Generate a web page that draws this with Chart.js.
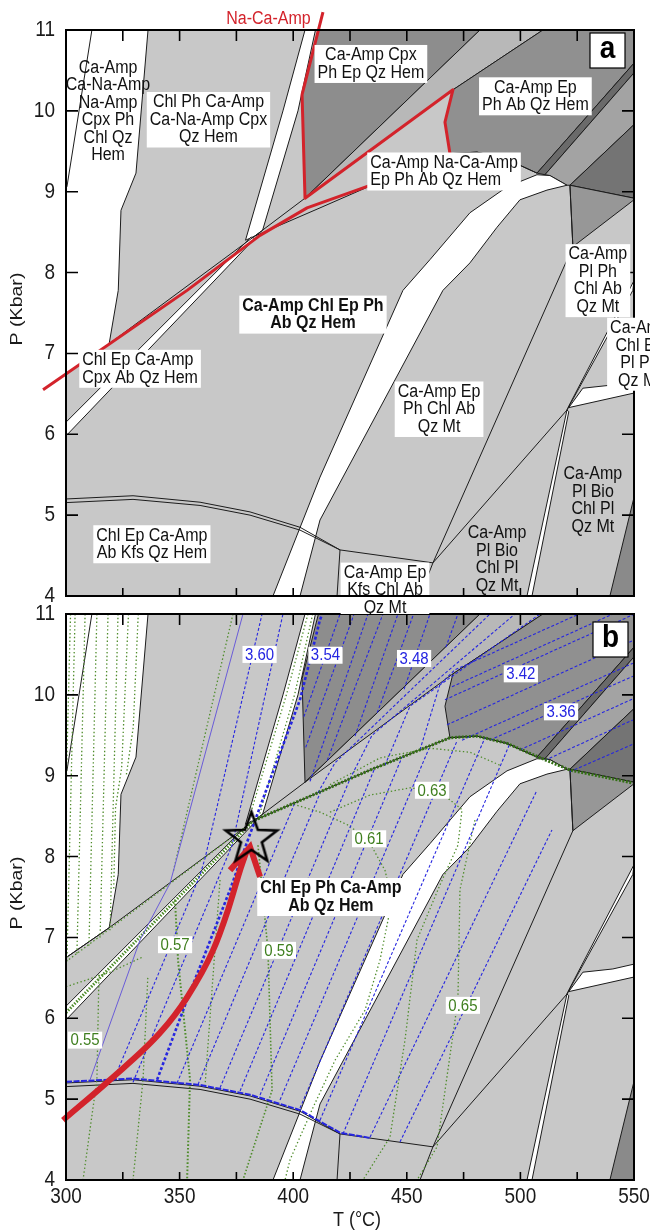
<!DOCTYPE html>
<html>
<head>
<meta charset="utf-8">
<script src="https://cdn.jsdelivr.net/npm/chart.js@4.4.1/dist/chart.umd.min.js"></script>
<style>
html,body{margin:0;padding:0;background:#fff;}
body{width:650px;height:1232px;position:relative;overflow:hidden;}
canvas{position:absolute;left:0;}
#panelA{top:0;z-index:2;}
#panelB{top:600px;z-index:1;}
</style>
</head>
<body>
<canvas id="panelA" width="650" height="614"></canvas>
<canvas id="panelB" width="650" height="632"></canvas>
<script>
// ---------- axes ----------
const T_MIN = 300, T_MAX = 550, P_MIN = 4, P_MAX = 11;
const tempLabels = [300, 350, 400, 450, 500, 550];
const tempTickMarks = [325, 350, 375, 400, 425, 450, 475, 500, 525];
const presLabels = [4, 5, 6, 7, 8, 9, 10, 11];
const presTickMarks = [5, 6, 7, 8, 9, 10];

// ---------- field geometry, [T (°C), P (kbar)] ----------
const leftWhite = [[300,11],[336.1,11],[330.8,9.23],[324.2,8.77],[323.0,7.78],[319.0,7.12],[300,6.75]];
const leftWhiteInner = [[311.4,11],[300.4,9.06]];
const bandA = [[405.2,11],[395.5,10.0],[379.0,8.40],[383.0,8.45],[386.5,8.52],[402.1,10.0],[409.8,11]];
const bandB = [[300,6.15],[381.5,8.44],[383.0,8.42],[300,5.98]];
const upperLeftLine = [[300,6.75],[319.0,7.12],[383.0,8.45]];
const lineU = [[383.0,8.45],[405.2,8.92]];
const fieldCpx = [[405.2,8.92],[403.9,10.20],[411.1,11],[482.2,11]];
const bandLight = [[405.2,8.92],[482.2,11],[509.9,11],[470.3,10.26]];
const fieldAb = [[469.0,9.47],[466.8,9.86],[470.3,10.26],[509.9,11],[550,11],[550,10.59],[507.3,9.23],[494.1,9.40],[480.9,9.49]];
const stripNE = [[507.3,9.23],[550,10.59],[550,10.47],[510.8,9.21]];
const fieldNE = [[510.8,9.21],[550,10.47],[550,9.83],[521.8,9.08],[520.5,9.08],[513.0,9.20]];
const fieldNEdark = [[521.8,9.08],[550,9.83],[550,8.92]];
const fieldE = [[521.8,9.08],[550,8.92],[550,8.90],[523.1,8.32]];
const lowerBoundary = [[383.0,8.45],[411.8,8.80],[433.8,9.07],[455.8,9.32],[469.0,9.47],[480.9,9.49],[494.1,9.40],[507.3,9.23]];
const bigBand = [[391.1,4.0],[411.8,5.47],[448.3,7.78],[460.2,8.16],[477.8,8.74],[494.1,9.06],[507.3,9.21],[513.0,9.20],[520.5,9.08],[511.7,9.02],[499.8,8.90],[489.7,8.56],[477.8,8.12],[465.9,7.78],[411.8,4.94],[403.0,4.0]];
const curve52 = [[300,5.20],[329.5,5.24],[359.0,5.16],[381.0,5.04],[403.0,4.85],[420.6,4.57],[461.5,4.41]];
const curve52b = [[300,5.155],[329.5,5.195],[359.0,5.12],[381.0,5.00],[403.0,4.815],[420.6,4.57]];
const lineKfs = [[420.6,4.57],[419.3,4.0]];
const lineX1 = [[521.8,9.08],[523.1,8.32],[461.5,4.41],[455.8,4.0]];
const lineX2 = [[461.5,4.41],[520.5,6.30]];
const thinBandS = [[520.5,6.30],[502.9,4.0],[505.1,4.0],[521.3,6.28]];
const thinBandN = [[520.5,6.30],[549.5,7.78],[550,7.90],[521.5,6.36]];
const wedge = [[521.3,6.33],[527.5,6.57],[540.7,6.61],[550,6.67],[550,6.51]];
const cornerSE = [[550,5.22],[539.4,4.0],[550,4.0]];

// ---------- Na-Ca-Amp stability limit ----------
const naCaAmpUpper = [[413.1,11.22],[403.9,10.20],[405.2,8.92],[470.3,10.26],[466.8,9.86],[469.0,9.47]];
const naCaAmpLower = [[289.9,6.55],[353.3,7.78],[385.4,8.46],[406.1,8.80],[436.0,9.10]];

// ---------- Si (p.f.u.) isopleths of phengite ----------
const siMain = [
  [[320.7,5.22],[359.0,7.77],[361.2,7.98],[386.3,11]],
  [[329.5,5.21],[373.1,8.14],[395.5,11]],
  [[348.9,5.20],[400.8,8.67]],
  [[358.1,5.18],[412.2,8.81]],
  [[367.8,5.14],[425.0,8.96]],
  [[376.6,5.10],[436.0,9.10]],
  [[385.4,5.05],[447.9,9.23]],
  [[394.2,4.99],[459.8,9.34]],
  [[403.0,4.89],[472.1,9.43]],
  [[411.8,4.74],[484.4,9.47]],
  [[421.9,4.57],[495.4,9.40]],
  [[433.8,4.53],[507.3,8.82]],
  [[447.0,4.47],[513.9,8.33]]
];
const si354 = [[340.1,5.24],[353.3,6.23],[372.2,7.59],[380.1,8.21],[389.8,8.95],[403.0,9.94],[411.8,10.93],[412.8,11]];
const siThin = [[310.6,5.24],[332.6,6.97],[345.8,7.67],[377.9,11]];
const siCpx = [
  [[404.7,9.73],[420.6,11]],
  [[405.5,9.35],[426.8,11]],
  [[407.4,8.93],[432.9,11]],
  [[415.0,9.19],[439.5,11]],
  [[427.2,9.49],[446.1,11]],
  [[437.0,9.78],[453.0,11]],
  [[448.8,10.07],[460.2,11]],
  [[467.2,10.59],[472.5,11]]
];
const siBand = [
  [[410.9,8.79],[418.4,9.16],[486.6,11]],
  [[425.0,8.96],[434.7,9.50],[497.6,11]],
  [[440.4,9.13],[451.4,9.86],[508.6,11]],
  [[455.8,9.32],[464.6,10.13],[471.2,10.31],[525.8,11]]
];
const siAb = [
  [[469.9,10.10],[540.7,11]],
  [[466.8,9.94],[549.5,10.99]],
  [[467.7,9.63],[549.5,10.67]],
  [[474.3,9.44],[549.5,10.39]],
  [[486.6,9.44],[549.5,10.23]],
  [[499.8,9.32],[549.5,9.95]],
  [[510.8,9.19],[549.5,9.69]],
  [[521.8,9.05],[549.5,9.39]]
];
const siCurve52 = [[300,5.215],[329.5,5.255],[359.0,5.175],[381.0,5.055],[403.0,4.865],[420.6,4.585],[433.8,4.52]];

// ---------- second set of isopleths (green) ----------
const xLeft = [
  [[302.0,11],[300.2,9.0]],
  [[304.0,11],[300.4,6.70]],
  [[308.4,11],[304.8,6.79]],
  [[313.6,11],[310.1,6.90]],
  [[318.5,11],[315.0,7.00]],
  [[322.9,11],[319.4,7.09]],
  [[327.5,11],[324.5,9.10],[321.8,8.60],[321.0,7.60]],
  [[331.8,11],[329.6,9.60],[326.5,9.00]]
];
const xR2 = [[373.5,11],[347.1,7.80]];
const xBandA1 = [[406.5,11],[397.0,10.0],[380.0,8.42]];
const xBandA2 = [[408.6,11],[400.6,10.0],[384.8,8.48]];
const xBandB = [[300,6.07],[382.0,8.43]];
const xUpperLeft = [[300,6.70],[383.0,8.45]];
const xLowLeft = [[300,6.39],[319.4,6.57],[333.9,6.76]];
const xLowerBoundary = [[383.0,8.45],[411.8,8.80],[433.8,9.07],[455.8,9.32],[469.0,9.47],[480.9,9.49],[494.1,9.40],[505.5,9.26],[521.8,9.07],[549.5,8.91]];
const x055 = [[314.5,6.54],[313.6,5.24],[307.5,4.0]];
const x056 = [[336.0,6.50],[333.9,5.24],[329.5,4.0]];
const x057 = [[348.0,7.46],[349.3,6.72],[354.6,5.24],[353.3,4.0]];
const x058 = [[367.8,7.71],[361.2,5.17]];
const x059 = [[384.5,8.14],[388.9,6.84],[390.7,5.11],[377.9,4.0]];
const x061 = [[398.6,8.66],[411.8,8.55],[424.1,8.39],[432.9,8.21],[440.4,7.83],[443.5,7.46],[438.2,6.72],[431.6,6.10],[418.4,5.48],[408.3,4.87],[398.6,4.25],[396.4,4.0]];
const x063 = [[416.2,8.55],[433.8,8.76],[451.4,8.85],[464.6,8.80],[474.3,8.58],[472.5,8.14],[464.6,7.65],[454.5,6.97],[449.2,5.73],[442.6,4.53],[430.7,4.0]];
const x065 = [[480.0,8.45],[473.4,7.59],[472.5,6.23],[463.3,4.41],[454.5,4.0]];
const xArcTop = [[416.2,8.89],[438.2,9.22],[460.2,9.34],[477.8,9.29],[491.0,9.13]];

// ---------- P-T path ----------
const pathShaft = [[298.7,4.74],[319.4,5.24],[341.4,5.82],[353.3,6.26],[364.7,6.84],[371.3,7.34],[376.6,7.83],[379.4,8.06]];
const pathHead = [[372.2,7.83],[381.0,8.12],[385.4,7.75]];
const peakPoint = [[381.6,8.22]];

// ---------- field names ----------
const fieldNamesA = [
  {t:318.5, p:9.99, lines:['Ca-Amp','Ca-Na-Amp','Na-Amp','Cpx Ph','Chl Qz','Hem']},
  {t:362.7, p:9.89, lines:['Chl Ph Ca-Amp','Ca-Na-Amp Cpx','Qz Hem'], box:true},
  {t:434.2, p:10.58, lines:['Ca-Amp Cpx','Ph Ep Qz Hem'], box:true},
  {t:506.6, p:10.18, lines:['Ca-Amp Ep','Ph Ab Qz Hem'], box:true},
  {t:466.4, p:9.25, lines:['Ca-Amp Na-Ca-Amp','Ep Ph Ab Qz Hem'], box:true, align:'left'},
  {t:408.7, p:7.48, lines:['Ca-Amp Chl Ep Ph','Ab Qz Hem'], box:true, bold:true},
  {t:332.6, p:6.81, lines:['Chl Ep Ca-Amp','Cpx Ab Qz Hem'], box:true, align:'left'},
  {t:464.2, p:6.31, lines:['Ca-Amp Ep','Ph Chl Ab','Qz Mt'], box:true},
  {t:534.1, p:7.90, lines:['Ca-Amp','Pl Ph','Chl Ab','Qz Mt'], box:true},
  {t:552.4, p:6.99, lines:['Ca-Amp','Chl Ep','Pl Ph','Qz Mt'], box:true},
  {t:531.9, p:5.18, lines:['Ca-Amp','Pl Bio','Chl Pl','Qz Mt']},
  {t:489.7, p:4.45, lines:['Ca-Amp','Pl Bio','Chl Pl','Qz Mt']},
  {t:337.8, p:4.64, lines:['Chl Ep Ca-Amp','Ab Kfs Qz Hem'], box:true},
  {t:440.4, p:4.07, lines:['Ca-Amp Ep','Kfs Chl Ab','Qz Mt'], box:true},
  {t:389.1, p:11.14, lines:['Na-Ca-Amp'], color:'#d3232b'}
];
const fieldNamesB = [
  {t:416.6, p:7.50, lines:['Chl Ep Ph Ca-Amp','Ab Qz Hem'], box:true, bold:true}
];
const siValues = [
  {t:385.2, p:10.50, text:'3.60'}, {t:414.2, p:10.49, text:'3.54'}, {t:453.2, p:10.45, text:'3.48'},
  {t:500.2, p:10.26, text:'3.42'}, {t:517.9, p:9.79, text:'3.36'}
];
const xValues = [
  {t:308.4, p:5.73, text:'0.55'}, {t:348.0, p:6.91, text:'0.57'}, {t:393.7, p:6.84, text:'0.59'},
  {t:433.4, p:8.22, text:'0.61'}, {t:461.1, p:8.82, text:'0.63'}, {t:474.7, p:6.16, text:'0.65'}
];

// ---------- style ----------
const FONT = '"Liberation Sans", Arial, Helvetica, sans-serif';
const STRETCH = 1.15;
const BG = '#c8c8c8', WHITE = '#ffffff', EDGE = '#1c1c1c';
const RED = '#d3232b', BLUE = '#2626e0', PURPLE = '#6a5cd8', GREEN = '#4f8c2b', DKGREEN = '#336f14';

const pts = a => a.map(([x, y]) => ({x, y}));
function poly(arr, color) {
  return {data: pts(arr.concat([arr[0]])), showLine: true, fill: 'shape', backgroundColor: color,
          borderColor: EDGE, borderWidth: 1, pointRadius: 0};
}
function path(arr, color, width, dash, extra) {
  return Object.assign({data: pts(arr), showLine: true, fill: false, borderColor: color,
          backgroundColor: 'transparent', borderWidth: width, borderDash: dash || [], pointRadius: 0}, extra || {});
}
function fieldLayers() {
  return [
    poly(leftWhite, WHITE),
    path(leftWhiteInner, EDGE, 1),
    poly(fieldCpx, '#8d8d8d'),
    poly(bandLight, '#b8b8b8'),
    poly(fieldAb, '#909090'),
    poly(stripNE, '#6a6a6a'),
    poly(fieldNE, '#a3a3a3'),
    poly(fieldNEdark, '#747474'),
    poly(fieldE, '#979797'),
    poly(bigBand, WHITE),
    poly(bandA, WHITE),
    poly(bandB, WHITE),
    poly(thinBandS, WHITE),
    poly(thinBandN, WHITE),
    poly(wedge, WHITE),
    poly(cornerSE, '#8a8a8a'),
    path(upperLeftLine, EDGE, 1),
    path(lineU, EDGE, 1),
    path(lowerBoundary, EDGE, 1),
    path(curve52, EDGE, 1),
    path(curve52b, EDGE, 1),
    path(lineKfs, EDGE, 1),
    path(lineX1, EDGE, 1),
    path(lineX2, EDGE, 1)
  ];
}

function starImage(R, r, lw) {
  const c = document.createElement('canvas');
  const s = Math.ceil(2 * R + 2 * lw + 2);
  c.width = s; c.height = s;
  const g = c.getContext('2d');
  g.translate(s / 2, s / 2);
  g.beginPath();
  for (let k = 0; k < 10; k++) {
    const rad = k % 2 ? r : R;
    const a = -Math.PI / 2 + k * Math.PI / 5;
    g.lineTo(rad * Math.cos(a), rad * Math.sin(a));
  }
  g.closePath();
  g.lineWidth = lw; g.strokeStyle = '#000'; g.lineJoin = 'miter';
  g.stroke();
  return c;
}

// ---------- text helpers ----------
function drawText(ctx, s, x, y, size, color, align, bold) {
  ctx.save();
  ctx.translate(x, y);
  ctx.scale(1, STRETCH);
  ctx.font = (bold ? 'bold ' : '') + size + 'px ' + FONT;
  ctx.fillStyle = color;
  ctx.textAlign = align || 'center';
  ctx.textBaseline = 'middle';
  ctx.fillText(s, 0, 0);
  ctx.restore();
}
function measure(ctx, s, size, bold) {
  ctx.save();
  ctx.font = (bold ? 'bold ' : '') + size + 'px ' + FONT;
  const w = ctx.measureText(s).width;
  ctx.restore();
  return w;
}

function framePlugin(cfg) {
  return {
    id: 'frame',
    beforeDatasetsDraw(chart) {
      const {ctx, chartArea: a} = chart;
      ctx.save();
      ctx.fillStyle = BG;
      ctx.fillRect(a.left, a.top, a.right - a.left, a.bottom - a.top);
      ctx.restore();
    },
    afterDatasetsDraw(chart) {
      const {ctx, chartArea: a, scales: {x, y}} = chart;
      ctx.save();
      ctx.strokeStyle = '#000';
      ctx.lineWidth = 1.6;
      ctx.beginPath();
      for (const t of tempTickMarks) {
        const px = x.getPixelForValue(t);
        ctx.moveTo(px, a.top); ctx.lineTo(px, a.top + 11);
        ctx.moveTo(px, a.bottom); ctx.lineTo(px, a.bottom - 8);
      }
      for (const p of presTickMarks) {
        const py = y.getPixelForValue(p);
        ctx.moveTo(a.left, py); ctx.lineTo(a.left + 12, py);
        ctx.moveTo(a.right, py); ctx.lineTo(a.right - 12, py);
      }
      ctx.stroke();
      ctx.lineWidth = 2;
      ctx.strokeRect(a.left, a.top, a.right - a.left, a.bottom - a.top);
      ctx.restore();
      for (const p of presLabels) {
        drawText(ctx, String(p), a.left - 11, y.getPixelForValue(p), 19, '#1a1a1a', 'right');
      }
      if (cfg.tempLabels) {
        for (const t of tempLabels) {
          drawText(ctx, String(t), x.getPixelForValue(t), a.bottom + 17, 19, '#1a1a1a', 'center');
        }
        drawText(ctx, 'T (°C)', (a.left + a.right) / 2 + 7, a.bottom + 40, 18, '#1a1a1a', 'center');
      }
      ctx.save();
      ctx.translate(17, (a.top + a.bottom) / 2 - 4);
      ctx.scale(1, STRETCH);
      ctx.rotate(-Math.PI / 2);
      ctx.font = '17px ' + FONT;
      ctx.fillStyle = '#1a1a1a';
      ctx.textAlign = 'center';
      ctx.textBaseline = 'middle';
      ctx.fillText('P (Kbar)', 0, 0);
      ctx.restore();
    },
    afterDraw(chart) {
      const {ctx, chartArea: a, scales: {x, y}} = chart;
      const LH = 17.5;
      for (const L of cfg.names) {
        const px = x.getPixelForValue(L.t), py = y.getPixelForValue(L.p);
        const n = L.lines.length;
        const w = Math.max(...L.lines.map(s => measure(ctx, s, 16, L.bold))) + 6;
        const h = n * LH + 3;
        const left = px - w / 2, top = py - h / 2;
        if (L.box) {
          ctx.save(); ctx.fillStyle = WHITE; ctx.fillRect(left, top, w, h); ctx.restore();
        }
        L.lines.forEach((s, i) => {
          const ly = py - (n - 1) * LH / 2 + i * LH;
          if (L.align === 'left') drawText(ctx, s, left + 3, ly, 16, L.color || '#111', 'left', L.bold);
          else drawText(ctx, s, px, ly, 16, L.color || '#111', 'center', L.bold);
        });
      }
      for (const group of cfg.values || []) {
        for (const v of group.items) {
          const px = x.getPixelForValue(v.t), py = y.getPixelForValue(v.p);
          const w = measure(ctx, v.text, 15) + 5, h = 17;
          ctx.save(); ctx.fillStyle = WHITE; ctx.fillRect(px - w / 2, py - h / 2, w, h); ctx.restore();
          drawText(ctx, v.text, px, py + 0.5, 15, group.color, 'center');
        }
      }
      ctx.save();
      ctx.strokeStyle = '#000'; ctx.lineWidth = 2;
      ctx.beginPath(); ctx.moveTo(a.left, a.bottom); ctx.lineTo(a.right, a.bottom); ctx.stroke();
      const bx = a.right - cfg.letterInset[0] - 35, by = a.top + cfg.letterInset[1];
      ctx.fillStyle = WHITE; ctx.fillRect(bx, by, 35, 35);
      ctx.lineWidth = 1.2; ctx.strokeRect(bx, by, 35, 35);
      ctx.restore();
      drawText(ctx, cfg.letter, bx + 17.5, by + 16, 28, '#000', 'center', true);
    }
  };
}

function makeChart(id, datasets, padding, cfg) {
  datasets.forEach((d, i) => { d.order = datasets.length - i; });
  return new Chart(document.getElementById(id), {
    type: 'scatter',
    data: {datasets},
    options: {
      responsive: false, animation: false, devicePixelRatio: 1, events: [],
      layout: {padding},
      plugins: {legend: {display: false}, tooltip: {enabled: false}},
      elements: {point: {radius: 0}, line: {tension: 0, borderCapStyle: 'butt'}},
      scales: {
        x: {type: 'linear', min: T_MIN, max: T_MAX, display: false},
        y: {type: 'linear', min: P_MIN, max: P_MAX, display: false}
      }
    },
    plugins: [framePlugin(cfg)]
  });
}

// ---------- panel a ----------
const dsA = fieldLayers().concat([
  path(naCaAmpUpper, RED, 3, [], {clip: false, borderJoinStyle: 'round'}),
  path(naCaAmpLower, RED, 3, [], {clip: false, borderJoinStyle: 'round'})
]);
makeChart('panelA', dsA, {left: 66, right: 16, top: 30, bottom: 18},
  {names: fieldNamesA, letter: 'a', letterInset: [9, 3]});

// ---------- panel b ----------
const greenDot = [1.4, 2.4];
const blueDash = [3, 2];
const dsB = fieldLayers();
xLeft.forEach(l => dsB.push(path(l, GREEN, 1.3, greenDot)));
[xR2, xBandA1, xBandA2, xLowLeft, xUpperLeft, x055, x056, x058, x061, x063, x065, xArcTop]
  .forEach(l => dsB.push(path(l, GREEN, 1.3, greenDot)));
dsB.push(path(x057, GREEN, 2, [1.6, 2]));
dsB.push(path(x059, GREEN, 1.6, [1.5, 2]));
dsB.push(path(xBandB, GREEN, 3, [1.5, 1.5]));
siMain.forEach(l => dsB.push(path(l, BLUE, 1.1, blueDash)));
siCpx.forEach(l => dsB.push(path(l, BLUE, 1.1, blueDash)));
siBand.forEach(l => dsB.push(path(l, BLUE, 1.1, blueDash)));
siAb.forEach(l => dsB.push(path(l, BLUE, 1.1, blueDash)));
dsB.push(path(siThin, PURPLE, 1));
dsB.push(path(si354, BLUE, 2.6, [3, 2.2]));
dsB.push(path(siCurve52, BLUE, 2, [6, 1.5]));
dsB.push(path(xLowerBoundary, DKGREEN, 3, [2, 1.5]));
dsB.push(path(pathShaft, RED, 6, [], {cubicInterpolationMode: 'monotone', clip: false}));
dsB.push(path(pathHead, RED, 6, [], {borderJoinStyle: 'miter'}));
dsB.push({data: pts(peakPoint), showLine: false, pointRadius: 6,
          pointStyle: starImage(27, 11, 2.6), backgroundColor: 'transparent', borderColor: '#000'});
makeChart('panelB', dsB, {left: 66, right: 16, top: 14, bottom: 52},
  {names: fieldNamesB, letter: 'b', letterInset: [6, 8], tempLabels: true,
   values: [{items: siValues, color: '#2424e0'}, {items: xValues, color: '#3f7f1f'}]});
</script>
</body>
</html>
